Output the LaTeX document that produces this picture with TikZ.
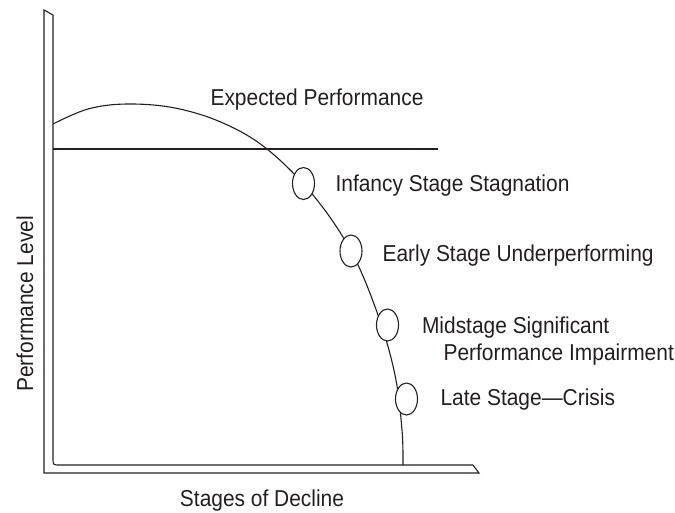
\documentclass[tikz,border=0pt]{standalone}
\usepackage{fontspec}
\setmainfont{Liberation Sans}
\newfontfamily\narrowfont[FakeStretch=0.91]{Liberation Sans}
\usetikzlibrary{shapes.geometric}
\definecolor{ink}{HTML}{231F20}
\begin{document}
\begin{tikzpicture}[x=1pt,y=-1pt,
  line width=1.1pt, draw=ink,
  lbl/.style={anchor=base west, inner sep=0pt, text=ink, font=\narrowfont\fontsize{23}{28}\selectfont},
  stage/.style={ellipse, draw=ink, fill=white, line width=1.1pt, minimum width=22pt, minimum height=32pt, inner sep=0pt}]
\useasboundingbox (0,0) rectangle (675,512);
% axes
\draw[ink, line join=miter] (44,10) -- (44,473) -- (479,473) -- (473,465) -- (60,465)
   .. controls (53,465) .. (53,458) -- (53,15) -- cycle;
% expected performance line
\coordinate (e1) at (53,149);
\coordinate (e2) at (438,149);
\draw[ink] (e1) -- (e2);
% performance curve
\draw[ink] plot[smooth, tension=0.6] coordinates {(53,124) (88,109) (127,104) (175,108) (223,123) (267,149) (313,195) (351,251) (378,315) (395,375) (402,430) (403,465)};
% stage markers
\node[stage] (s1) at (303.5,183.5) {};
\node[stage] (s2) at (351,251) {};
\node[stage] (s3) at (387.5,325) {};
\node[stage] (s4) at (406.5,399) {};
% labels
\node[lbl] (exp) at (210,105) {Expected Performance};
\node[lbl] (l1) at (335,191) {Infancy Stage Stagnation};
\node[lbl] (l2) at (382,261) {Early Stage Underperforming};
\node[lbl] (l3a) at (421.5,333) {Midstage Significant};
\node[lbl] (l3b) at (443,360) {Performance Impairment};
\node[lbl] (l4) at (440,405) {Late Stage—Crisis};
\node[lbl, anchor=base, rotate=90] (ylab) at (33,304) {Performance Level};
\node[lbl, anchor=base] (xlab) at (262,506.5) {Stages of Decline};
\end{tikzpicture}
\end{document}
